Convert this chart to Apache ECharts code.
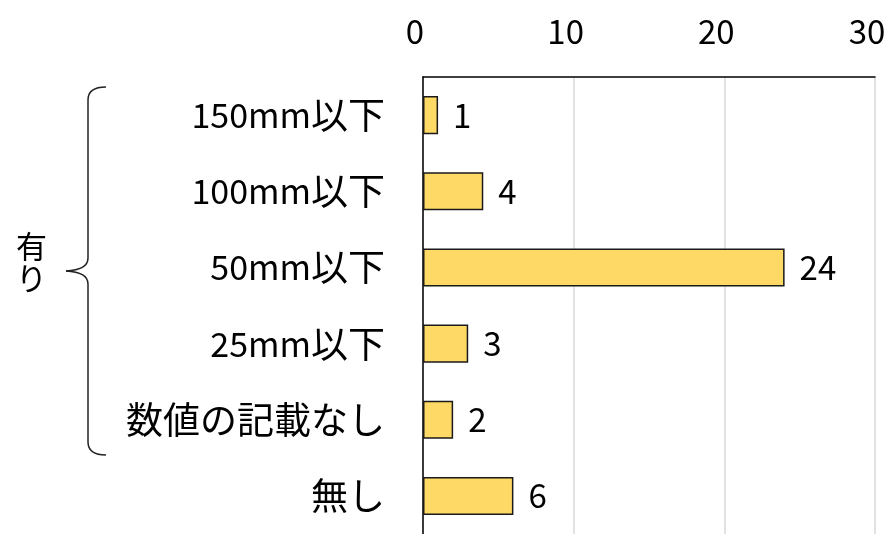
<!DOCTYPE html>
<html>
<head>
<meta charset="utf-8">
<script src="https://cdn.jsdelivr.net/npm/echarts@6/dist/echarts.min.js"></script>
<style>
  html, body { margin: 0; padding: 0; background: #fff; }
  #chart { width: 895px; height: 534px; }
</style>
</head>
<body>
<div id="chart"></div>
<script>
// Categories (top to bottom) and counts
const categories = ['150mm以下', '100mm以下', '50mm以下', '25mm以下', '数値の記載なし', '無し'];
const counts = [1, 4, 24, 3, 2, 6];
const axisTicks = [0, 10, 20, 30];
const groupLabel = '有り';

const FONT = '"Noto Sans CJK JP", "Noto Sans", sans-serif';

const chart = echarts.init(document.getElementById('chart'), null, { renderer: 'canvas' });

// Curly brace that groups the first five categories
const braceStyle = { fill: null, stroke: '#222', lineWidth: 1.5 };
function curve(x1, y1, cx, cy, x2, y2) {
  return { type: 'bezierCurve', shape: { x1: x1, y1: y1, cpx1: cx, cpy1: cy, x2: x2, y2: y2 }, style: braceStyle };
}
function seg(x1, y1, x2, y2) {
  return { type: 'line', shape: { x1: x1, y1: y1, x2: x2, y2: y2 }, style: braceStyle };
}

// Split a label into Latin and CJK runs so each gets its own size
function richLabel(text) {
  const runs = text.match(/[\x00-\x7f]+|[^\x00-\x7f]+/g) || [];
  return runs.map(function (r) {
    return /^[\x00-\x7f]+$/.test(r) ? '{a|' + r + '}' : '{c|' + r + '}';
  }).join('');
}

chart.setOption({
  animation: false,
  backgroundColor: '#ffffff',
  grid: { left: 423, right: 20, top: 77, bottom: 0, containLabel: false },
  xAxis: {
    type: 'value',
    position: 'top',
    min: axisTicks[0],
    max: axisTicks[axisTicks.length - 1],
    interval: axisTicks[1] - axisTicks[0],
    axisLine: { show: true, lineStyle: { color: '#000', width: 1.5 } },
    axisTick: { show: false },
    splitLine: { show: true, lineStyle: { color: '#d9d9d9', width: 1.5 } },
    axisLabel: {
      color: '#000', fontFamily: FONT, fontSize: 33, margin: 29,
      padding: [0, 16, 0, 0]
    }
  },
  yAxis: {
    type: 'category',
    inverse: true,
    data: categories,
    axisLine: { show: true, lineStyle: { color: '#000', width: 1.5 } },
    axisTick: { show: false },
    splitLine: { show: false },
    axisLabel: {
      margin: 38,
      formatter: richLabel,
      rich: {
        a: { color: '#000', fontFamily: FONT, fontSize: 34 },
        c: { color: '#000', fontFamily: FONT, fontSize: 37 }
      }
    }
  },
  series: [{
    type: 'bar',
    data: counts,
    barCategoryGap: '50%',
    itemStyle: { color: '#FFD966', borderColor: '#1a1a1a', borderWidth: 1.5 },
    label: {
      show: true, position: 'right', distance: 15,
      color: '#000', fontFamily: FONT, fontSize: 33
    }
  }],
  graphic: [
    {
      type: 'group',
      children: [
        curve(106, 87, 88, 87, 88, 100),
        seg(88, 100, 88, 258),
        curve(88, 258, 88, 270, 66, 271),
        curve(66, 271, 88, 272, 88, 284),
        seg(88, 284, 88, 442),
        curve(88, 442, 88, 455, 106, 455)
      ]
    },
    {
      type: 'text',
      left: 16,
      top: 230,
      style: {
        text: groupLabel.split('').join('\n'),
        font: '31px ' + FONT,
        fill: '#000',
        lineHeight: 32
      }
    }
  ]
});
</script>
</body>
</html>
